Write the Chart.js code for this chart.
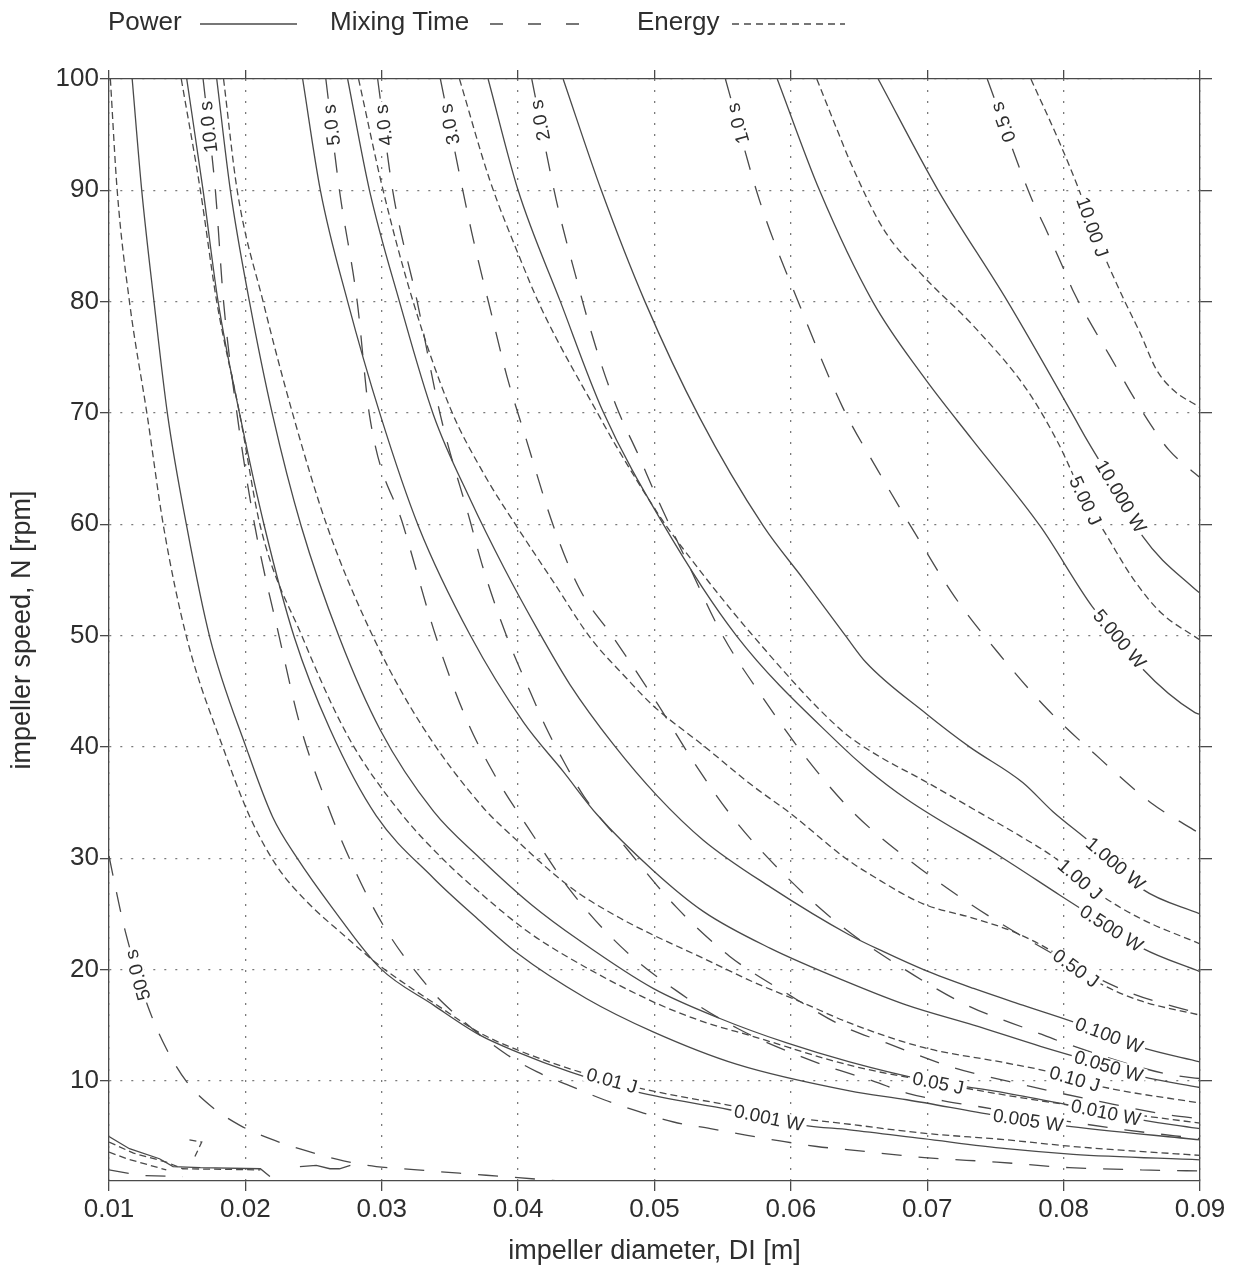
<!DOCTYPE html>
<html>
<head>
<meta charset="utf-8">
<script src="https://cdn.jsdelivr.net/npm/chart.js@4.4.1/dist/chart.umd.min.js"></script>
<style>
  html, body { margin: 0; padding: 0; background: #fff; }
</style>
</head>
<body>
<canvas id="chart" width="1235" height="1271"></canvas>
<script>
// axis ticks
const xTicks = [0.01, 0.02, 0.03, 0.04, 0.05, 0.06, 0.07, 0.08, 0.09];
const yTicks = [10, 20, 30, 40, 50, 60, 70, 80, 90, 100];

// Power contours, [impeller diameter m, speed rpm]
const pow0001 = [[0.0117,100],[0.0124,90],[0.0133,80],[0.0143,69.8],[0.0157,59.8],[0.0174,49.8],[0.0201,39.8],[0.0220,33.7],[0.0238,30],[0.0264,25.5],[0.0299,20.1],[0.0338,16.8],[0.0372,14.1],[0.0399,12.6],[0.0438,10.8],[0.0487,9.0],[0.0555,7.4],[0.0610,6.0],[0.0643,5.6],[0.0697,4.8],[0.0758,3.9],[0.0807,3.4],[0.0900,2.9]];
const pow0005 = [[0.0157,100],[0.0169,90],[0.0180,80],[0.0196,69.8],[0.0214,59.8],[0.0236,49.8],[0.0262,41.6],[0.0296,33.8],[0.0338,28.2],[0.0368,24.8],[0.0399,21.5],[0.0450,17.4],[0.0499,14.4],[0.0560,11.5],[0.0643,9.1],[0.0685,8.3],[0.0750,6.9],[0.0798,6.0],[0.0900,4.7]];
const pow001 = [[0.0179,100],[0.0189,90],[0.0203,80],[0.0220,69.8],[0.0241,59.8],[0.0269,49.8],[0.0299,41.5],[0.0338,34.2],[0.0372,30.0],[0.0410,25.8],[0.0445,22.6],[0.0499,18.3],[0.0548,15.6],[0.0597,13.4],[0.0643,11.7],[0.0697,10.1],[0.0758,8.9],[0.0797,8.0],[0.0857,6.5],[0.0900,5.7]];
const pow005 = [[0.0242,100],[0.0255,90],[0.0275,80],[0.0299,69.8],[0.0327,59.8],[0.0365,50],[0.0404,42.2],[0.0433,37.8],[0.0458,33.9],[0.0499,28.9],[0.0536,25.2],[0.0585,21.9],[0.0643,18.8],[0.0685,16.8],[0.0734,15.0],[0.0783,13.1],[0.0833,11.3],[0.0857,10.4],[0.0900,9.4]];
const pow01 = [[0.0275,100],[0.0291,90],[0.0313,80],[0.0338,69.8],[0.0365,62.2],[0.0390,56.0],[0.0414,50.6],[0.0438,45.6],[0.0470,40.2],[0.0502,35.6],[0.0536,31.6],[0.0585,27.4],[0.0643,23.1],[0.0668,21.6],[0.0699,19.9],[0.0734,18.3],[0.0770,16.8],[0.0807,15.3],[0.0833,14.1],[0.0857,13.0],[0.0900,11.7]];
const pow05 = [[0.0378,100],[0.0400,90],[0.0431,80],[0.0462,70.2],[0.0505,60.3],[0.0560,50.0],[0.0636,40.2],[0.0656,38.0],[0.0685,35.3],[0.0753,30.2],[0.0797,26.7],[0.0835,23.7],[0.0858,21.9],[0.0900,19.8]];
const pow1 = [[0.0433,100],[0.0461,90],[0.0493,80],[0.0533,69.6],[0.0580,59.8],[0.0609,55.1],[0.0640,50.0],[0.0655,47.6],[0.0699,43.0],[0.0731,40.0],[0.0770,36.8],[0.0792,34.2],[0.0817,31.7],[0.0838,29.5],[0.0858,27.2],[0.0900,25.0]];
const pow5 = [[0.0590,100],[0.0621,90],[0.0660,80],[0.0697,73.3],[0.0733,67.6],[0.0783,59.8],[0.0821,52.6],[0.0841,49.7],[0.0858,47.0],[0.0896,43.1],[0.0900,42.9]];
const pow10 = [[0.0664,100],[0.0708,90],[0.0759,80],[0.0806,70],[0.0817,67.6],[0.0842,62.5],[0.0858,58.9],[0.0896,54.2],[0.0900,53.8]];

// Energy contours
const en001 = [[0.0101,100],[0.0106,90],[0.0115,80],[0.0128,69.8],[0.0140,59.8],[0.0157,49.8],[0.0184,39.8],[0.0203,33.8],[0.0223,29.3],[0.0245,26.1],[0.0272,23.1],[0.0299,20.3],[0.0343,16.6],[0.0372,14.3],[0.0399,12.8],[0.0440,11.0],[0.0487,9.4],[0.0555,7.8],[0.0609,6.6],[0.0643,6.1],[0.0697,5.3],[0.0758,4.7],[0.0807,4.1],[0.0900,3.3]];
const en005 = [[0.0153,100],[0.0167,90],[0.0179,80],[0.0196,69.8],[0.0211,59.8],[0.0242,49.8],[0.0275,41.0],[0.0313,34.2],[0.0350,29.3],[0.0372,26.9],[0.0406,23.5],[0.0438,21.0],[0.0499,17.1],[0.0536,15.3],[0.0572,14.0],[0.0643,11.4],[0.0708,9.8],[0.0758,8.7],[0.0805,7.8],[0.0856,6.9],[0.0900,6.2]];
const en01 = [[0.0184,100],[0.0194,90],[0.0213,80],[0.0235,69.8],[0.0260,59.8],[0.0294,49.8],[0.0330,41.8],[0.0374,34.6],[0.0399,31.6],[0.0426,28.6],[0.0445,26.8],[0.0475,24.6],[0.0499,23.1],[0.0536,21.0],[0.0572,18.9],[0.0609,17.0],[0.0643,15.2],[0.0697,13.0],[0.0758,11.6],[0.0790,10.8],[0.0827,9.5],[0.0900,8.0]];
const en05 = [[0.0283,100],[0.0301,90],[0.0323,80],[0.0350,70.5],[0.0375,64.5],[0.0399,59.8],[0.0426,54.8],[0.0453,49.8],[0.0480,46.1],[0.0499,43.7],[0.0536,40.1],[0.0572,36.5],[0.0600,34.0],[0.0640,30.0],[0.0660,28.4],[0.0697,25.9],[0.0734,24.6],[0.0763,23.4],[0.0792,21.6],[0.0809,20.1],[0.0829,18.6],[0.0856,17.2],[0.0900,15.9]];
const en1 = [[0.0357,100],[0.0379,91.0],[0.0401,84.0],[0.0417,79.4],[0.0460,69.6],[0.0472,67.0],[0.0505,60.5],[0.0521,57.8],[0.0570,50.3],[0.0636,41.6],[0.0660,39.5],[0.0700,36.8],[0.0734,34.4],[0.0768,32.0],[0.0795,29.9],[0.0812,28.1],[0.0827,26.7],[0.0856,24.6],[0.0900,22.3]];
const en5 = [[0.0619,100],[0.0636,94.8],[0.0643,92.7],[0.0668,86.5],[0.0697,82.3],[0.0734,77.8],[0.0773,72.1],[0.0796,67.3],[0.0816,62.1],[0.0829,59.5],[0.0851,55.1],[0.0871,52.1],[0.0900,49.6]];
const en10 = [[0.0776,100],[0.0797,94.3],[0.0812,89.8],[0.0821,86.7],[0.0843,80.5],[0.0856,77.2],[0.0868,73.9],[0.0880,72.1],[0.0900,70.5]];

// Mixing time contours
const mix50 = [[0.0100,30.2],[0.0103,28.4],[0.0108,25.5],[0.0112,23.4],[0.0121,19.5],[0.0130,16.2],[0.0142,12.9],[0.0157,9.9],[0.0174,7.8],[0.0196,6.0],[0.0218,4.8],[0.0245,3.7],[0.0272,2.8],[0.0296,2.3],[0.0326,2.0],[0.0357,1.7],[0.0400,1.3],[0.0430,1.0]];
const mix10 = [[0.0169,100],[0.0178,90],[0.0184,80],[0.0194,69.8],[0.0207,59.8],[0.0225,49.8],[0.0240,42.0],[0.0261,34.5],[0.0277,29.8],[0.0301,24.0],[0.0335,18.3],[0.0352,16.2],[0.0390,12.5],[0.0414,10.8],[0.0439,9.5],[0.0463,8.3],[0.0487,7.3],[0.0514,6.3],[0.0541,5.7],[0.0568,5.1],[0.0592,4.6],[0.0619,4.1],[0.0643,3.8],[0.0698,3.1],[0.0751,2.7],[0.0804,2.2],[0.0857,2.0],[0.0900,1.9]];
const mix5 = [[0.0259,100],[0.0269,90],[0.0282,80],[0.0291,69.8],[0.0316,59.8],[0.0340,49.8],[0.0362,42.5],[0.0385,37.0],[0.0407,32.8],[0.0439,27.0],[0.0475,22.1],[0.0516,18.1],[0.0561,14.7],[0.0609,12.1],[0.0634,11.0],[0.0660,10.0],[0.0685,8.9],[0.0712,8.2],[0.0737,7.7],[0.0790,6.6],[0.0845,5.6],[0.0900,4.8]];
const mix4 = [[0.0297,100],[0.0308,90],[0.0326,80],[0.0343,69.8],[0.0365,60.2],[0.0374,56.2],[0.0392,49.8],[0.0409,44.9],[0.0421,41.6],[0.0433,38.8],[0.0448,35.6],[0.0480,30.8],[0.0516,25.6],[0.0555,21.2],[0.0599,17.7],[0.0640,14.8],[0.0670,13.4],[0.0719,11.2],[0.0772,9.6],[0.0828,8.1],[0.0879,6.9],[0.0900,6.6]];
const mix3 = [[0.0343,100],[0.0366,86.2],[0.0380,79.1],[0.0392,73.2],[0.0406,67.6],[0.0426,59.8],[0.0445,54.2],[0.0470,49.8],[0.0502,43.9],[0.0530,38.4],[0.0559,33.4],[0.0597,28.3],[0.0636,24.0],[0.0681,20.2],[0.0729,16.8],[0.0777,14.5],[0.0803,13.3],[0.0876,10.6],[0.0900,10.2]];
const mix2 = [[0.0410,100],[0.0428,89.1],[0.0442,82.4],[0.0457,75.9],[0.0472,70.6],[0.0489,66.0],[0.0501,62.6],[0.0524,56.6],[0.0550,50.0],[0.0579,44.5],[0.0610,39.2],[0.0645,34.2],[0.0685,30.0],[0.0729,26.1],[0.0775,22.6],[0.0845,18.1],[0.0900,16.0]];
const mix1 = [[0.0552,100],[0.0577,89.1],[0.0607,79.5],[0.0638,70.5],[0.0664,64.8],[0.0691,59.2],[0.0720,53.5],[0.0753,48.3],[0.0788,43.4],[0.0827,38.9],[0.0865,34.9],[0.0900,32.2]];
const mix05 = [[0.0744,100],[0.0776,89.4],[0.0787,86.5],[0.0798,83.5],[0.0808,80.7],[0.0821,77.8],[0.0834,75.1],[0.0848,72.1],[0.0863,69.1],[0.0877,66.7],[0.0895,64.7],[0.0900,64.2]];

// stray contour pieces near the origin
const fragA = [[0.0100,5.0],[0.0115,3.9],[0.0137,3.0],[0.0147,2.3],[0.0167,2.2],[0.0211,2.1],[0.0218,1.4]];
const fragB = [[0.0100,4.5],[0.0118,3.5],[0.0142,2.7],[0.0154,2.1],[0.0211,2.0]];
const fragC = [[0.0100,3.6],[0.0113,3.0],[0.0142,2.0]];
const fragD = [[0.0100,2.0],[0.0123,1.5],[0.0154,1.4]];
const fragE = [[0.0159,4.7],[0.0168,4.5],[0.0163,3.2]];
const fragF = [[0.0240,2.3],[0.0252,2.4],[0.0262,2.1],[0.0269,2.1],[0.0277,2.4]];

const lines = [
  { kind: 'power', pts: pow0001, label: '0.001 W', at: [0.0584, 6.7] },
  { kind: 'power', pts: pow0005, label: '0.005 W', at: [0.0774, 6.5] },
  { kind: 'power', pts: pow001, label: '0.010 W', at: [0.0831, 7.1] },
  { kind: 'power', pts: pow005, label: '0.050 W', at: [0.0833, 11.3] },
  { kind: 'power', pts: pow01, label: '0.100 W', at: [0.0833, 14.0] },
  { kind: 'power', pts: pow05, label: '0.500 W', at: [0.0835, 23.7] },
  { kind: 'power', pts: pow1, label: '1.000 W', at: [0.0838, 29.5] },
  { kind: 'power', pts: pow5, label: '5.000 W', at: [0.0841, 49.7] },
  { kind: 'power', pts: pow10, label: '10.000 W', at: [0.0842, 62.5] },
  { kind: 'energy', pts: en001, label: '0.01 J', at: [0.0469, 10.1] },
  { kind: 'energy', pts: en005, label: '0.05 J', at: [0.0708, 9.8] },
  { kind: 'energy', pts: en01, label: '0.10 J', at: [0.0808, 10.1] },
  { kind: 'energy', pts: en05, label: '0.50 J', at: [0.0809, 20.1] },
  { kind: 'energy', pts: en1, label: '1.00 J', at: [0.0812, 28.1] },
  { kind: 'energy', pts: en5, label: '5.00 J', at: [0.0816, 62.1] },
  { kind: 'energy', pts: en10, label: '10.00 J', at: [0.0821, 86.7] },
  { kind: 'mix', pts: mix50, label: '50.0 s', at: [0.0121, 19.5] },
  { kind: 'mix', pts: mix10, label: '10.0 s', at: [0.0173, 95.7] },
  { kind: 'mix', pts: mix5, label: '5.0 s', at: [0.0266, 95.9] },
  { kind: 'mix', pts: mix4, label: '4.0 s', at: [0.0304, 95.9] },
  { kind: 'mix', pts: mix3, label: '3.0 s', at: [0.0349, 95.9] },
  { kind: 'mix', pts: mix2, label: '2.0 s', at: [0.0417, 96.3] },
  { kind: 'mix', pts: mix1, label: '1.0 s', at: [0.0561, 96.0] },
  { kind: 'mix', pts: mix05, label: '0.5 s', at: [0.0757, 96.2] },
  { kind: 'power', pts: fragA, frag: true },
  { kind: 'energy', pts: fragB, frag: true },
  { kind: 'energy', pts: fragC, frag: true },
  { kind: 'mix', pts: fragD, frag: true },
  { kind: 'energy', pts: fragE, frag: true },
  { kind: 'power', pts: fragF, frag: true }
];

const FONT = "'Liberation Sans', Arial, sans-serif";
const INK = '#2e2e2e';
const LINE = '#4a4a4a';
const dashes = { power: [], energy: [7, 4], mix: [20, 17] };

Chart.defaults.font.family = FONT;
Chart.defaults.color = INK;

// labels sit on their curve, rotated along it, with a white gap behind
const contourLabels = {
  id: 'contourLabels',
  afterDatasetsDraw(chart) {
    const { ctx, scales: { x, y } } = chart;
    ctx.save();
    ctx.font = '19px ' + FONT;
    ctx.textAlign = 'center';
    ctx.textBaseline = 'middle';
    lines.forEach(l => {
      if (!l.label) return;
      const tx = x.getPixelForValue(l.at[0]), ty = y.getPixelForValue(l.at[1]);
      const px = l.pts.map(p => [x.getPixelForValue(p[0]), y.getPixelForValue(p[1])]);
      let best = null;
      for (let i = 0; i < px.length - 1; i++) {
        const [ax, ay] = px[i], [bx, by] = px[i + 1];
        const dx = bx - ax, dy = by - ay, len2 = dx * dx + dy * dy || 1;
        let t = ((tx - ax) * dx + (ty - ay) * dy) / len2;
        t = Math.max(0, Math.min(1, t));
        const qx = ax + t * dx, qy = ay + t * dy;
        const d = (qx - tx) ** 2 + (qy - ty) ** 2;
        if (!best || d < best.d) best = { d, qx, qy, dx, dy };
      }
      let ang = Math.atan2(best.dy, best.dx);
      if (l.kind === 'mix') ang -= Math.PI; // time labels read upward
      ctx.save();
      ctx.translate(best.qx, best.qy);
      ctx.rotate(ang);
      const w = ctx.measureText(l.label).width;
      ctx.fillStyle = '#fff';
      ctx.fillRect(-w / 2 - 3, -8, w + 6, 16);
      ctx.fillStyle = INK;
      ctx.fillText(l.label, 0, 1);
      ctx.restore();
    });
    ctx.restore();
  }
};

// legend row: text first, then the line sample
const legendRow = {
  id: 'legendRow',
  afterDraw(chart) {
    const ctx = chart.ctx;
    const rows = [
      ['Power', 108, 200, 297, []],
      ['Mixing Time', 330, 490, 585, [13, 25]],
      ['Energy', 637, 732, 845, [7, 5]]
    ];
    ctx.save();
    ctx.font = '26px ' + FONT;
    ctx.fillStyle = INK;
    ctx.textAlign = 'left';
    ctx.textBaseline = 'middle';
    ctx.strokeStyle = LINE;
    ctx.lineWidth = 1.3;
    rows.forEach(([txt, tx, x1, x2, dash]) => {
      ctx.fillText(txt, tx, 23);
      ctx.setLineDash(dash);
      ctx.beginPath();
      ctx.moveTo(x1, 24);
      ctx.lineTo(x2, 24);
      ctx.stroke();
    });
    ctx.restore();
  }
};

const tickFont = { size: 26 };
const titleFont = { size: 27 };

new Chart(document.getElementById('chart'), {
  type: 'line',
  data: {
    datasets: lines.map(l => ({
      data: l.pts.map(p => ({ x: p[0], y: p[1] })),
      borderColor: LINE,
      borderWidth: 1.3,
      borderDash: dashes[l.kind],
      pointRadius: 0,
      pointHoverRadius: 0,
      fill: false,
      tension: 0,
      cubicInterpolationMode: l.frag ? 'default' : 'monotone'
    }))
  },
  options: {
    responsive: false,
    animation: false,
    devicePixelRatio: 1,
    events: [],
    layout: { padding: 0, autoPadding: false },
    plugins: { legend: { display: false }, tooltip: { enabled: false } },
    scales: {
      x: {
        type: 'linear', position: 'bottom', min: 0.01, max: 0.09,
        afterBuildTicks: s => { s.ticks = xTicks.map(v => ({ value: v })); },
        afterFit: s => { s.height = 90; },
        ticks: { callback: v => v.toFixed(2), font: tickFont, color: INK, padding: 3, maxRotation: 0, autoSkip: false },
        grid: { color: '#7a7a7a', lineWidth: 1.3, tickLength: 10, tickColor: LINE },
        border: { color: LINE, width: 1.3, dash: [2, 9] },
        title: { display: true, text: 'impeller diameter, DI [m]', font: titleFont, color: INK, padding: { top: 0, bottom: 3 } }
      },
      y: {
        type: 'linear', position: 'left', min: 1, max: 100,
        afterBuildTicks: s => { s.ticks = yTicks.map(v => ({ value: v })); },
        afterFit: s => { s.width = 109; },
        ticks: { font: tickFont, color: INK, padding: 1, autoSkip: false },
        grid: { color: '#7a7a7a', lineWidth: 1.3, tickLength: 9, tickColor: LINE },
        border: { color: LINE, width: 1.3, dash: [2, 9] },
        title: { display: true, text: 'impeller speed, N [rpm]', font: titleFont, color: INK, padding: { top: 6, bottom: 0 } }
      },
      x2: {
        type: 'linear', position: 'top', min: 0.01, max: 0.09,
        afterBuildTicks: s => { s.ticks = xTicks.map(v => ({ value: v })); },
        afterFit: s => { s.height = 79; },
        ticks: { display: false },
        grid: { drawOnChartArea: false, tickLength: 9, color: LINE, lineWidth: 1.3 },
        border: { color: LINE, width: 1.3 }
      },
      y2: {
        type: 'linear', position: 'right', min: 1, max: 100,
        afterBuildTicks: s => { s.ticks = yTicks.map(v => ({ value: v })); },
        afterFit: s => { s.width = 35; },
        ticks: { display: false },
        grid: { drawOnChartArea: false, tickLength: 12, color: LINE, lineWidth: 1.3 },
        border: { color: LINE, width: 1.3 }
      }
    }
  },
  plugins: [contourLabels, legendRow]
});
</script>
</body>
</html>
